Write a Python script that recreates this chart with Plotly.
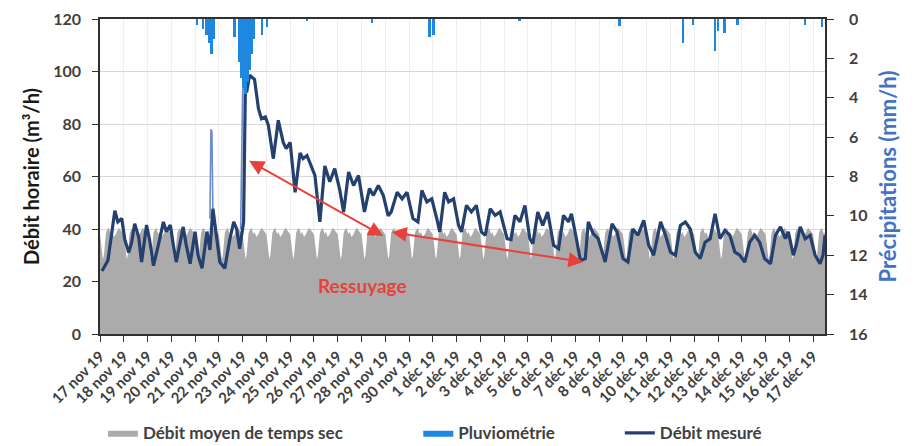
import pandas as pd
import plotly.graph_objects as go

START = pd.Timestamp("2019-11-17 00:00")

# ---- x-axis tick labels (one per day) ----
tick_labels = (
    [f"{d} nov 19" for d in range(17, 31)]
    + [f"{d} déc 19" for d in range(1, 18)]
)

# ---- Débit moyen de temps sec : hourly dry-weather profile (m3/h), repeated each day ----
dry_profile = [38, 35, 31, 28.5, 30, 35, 38.5, 39.5, 40, 40.5, 39, 38,
               39, 38, 37, 37.5, 38, 39, 40, 40.5, 40, 39.5, 39, 38.5]
n_hours = 733

# ---- Débit mesuré (m3/h), hours since 17 nov 00:00 ----
measured_hours = [2, 8, 15, 18, 22, 25, 29, 32, 35, 39, 42, 47, 50, 54, 59, 64, 67, 71, 74, 77,
                  84, 87, 91, 96, 99, 103, 108, 111, 114, 118, 121, 126, 131, 135, 138, 141, 145,
                  147, 148, 151, 156, 160, 163, 167, 170, 175, 180, 185, 188, 192, 197, 202, 205,
                  209, 214, 217, 222, 227, 232, 237, 242, 246, 251, 256, 261, 267, 272, 276, 281,
                  286, 291, 294, 300, 305, 310, 316, 321, 325, 330, 335, 340, 343, 348, 352, 357,
                  362, 365, 370, 375, 380, 385, 389, 394, 399, 404, 411, 415, 419, 424, 429, 434,
                  437, 442, 447, 452, 458, 463, 468, 473, 476, 481, 485, 490, 493, 498, 503, 510,
                  517, 522, 528, 533, 538, 543, 549, 554, 559, 566, 571, 576, 581, 586, 591, 596,
                  601, 606, 611, 616, 621, 626, 631, 636, 641, 646, 651, 656, 661, 666, 671, 677,
                  682, 687, 692, 695, 700, 703, 707, 712, 717, 722, 727, 730, 732]
measured_flow = [24, 28, 47, 42.7, 44, 36, 31, 35, 42, 37, 27.4, 41.5, 36, 26, 34, 42.7, 39, 41.5, 34, 27.4,
                 40.8, 34, 26.8, 39, 30, 25, 39, 32, 47.7, 36, 27.4, 25, 36, 42.7, 40, 32.5, 42.7,
                 101, 92, 98.6, 97, 85.8, 82, 82.7, 79.5, 66.8, 81.4, 73, 70.6, 73, 54, 69, 66.8,
                 68, 63, 60.4, 42.7, 64, 58, 63, 55, 46.5, 61.7, 56.6, 60.4, 46.5, 55.4, 52.8, 56.6,
                 52.8, 45, 46.5, 54, 51.5, 54, 44, 42.7, 54.7, 50.3, 51.5, 44, 38.9, 54, 50.3, 51.5,
                 41.4, 38.9, 49, 46.5, 49, 38.9, 37.6, 47.7, 45.2, 46.5, 36.3, 36, 45.2, 42.7, 49, 36.3,
                 34.4, 46.5, 41.4, 46.5, 33.8, 32.5, 45.2, 42.7, 45.8, 36.3, 28, 28.7, 42.7, 38.2, 36.3, 27.4,
                 42, 38.9, 28.7, 27.4, 40, 37.6, 43.3, 33.8, 30, 42.7, 37.6, 31.2, 30, 41.4, 42.7, 40,
                 31.2, 28.7, 35, 36.3, 45.8, 36.3, 39.5, 37.6, 31.2, 30, 27.4, 35, 37.6, 35, 28.7, 26.8,
                 37.6, 40.8, 36.3, 38.9, 30, 33.8, 40.8, 36.3, 37.6, 30, 26.8, 30, 37.6]

# ---- thin light-blue raw spikes visible on 21-22 nov ----
spike_hours = [111, 112, 113, 114, None, 142, 143, 144, 145, 146]
spike_flow = [44, 78, 77, 46, None, 40, 70, 92, 96, 100]

# ---- Pluviométrie (mm/h) ----
rain_hours = [98, 104, 108, 111, 113, 115, 136, 141, 143, 145, 147, 149, 151, 153, 155,
              164, 169, 209, 275, 333, 337, 424, 525, 589, 599, 621, 624, 631, 644, 712, 729]
rain_mm = [0.3, 0.5, 0.8, 1.2, 1.8, 1.0, 0.9, 2.2, 3.0, 3.5, 3.8, 3.2, 2.6, 1.8, 1.0,
           0.8, 0.4, 0.1, 0.2, 0.9, 0.8, 0.1, 0.35, 1.2, 0.3, 1.6, 0.6, 0.7, 0.3, 0.3, 0.4]

# ---- annotation anchors (hours, m3/h) ----
arrow1 = (149, 66.3, 286, 37.3)
arrow2 = (293, 38.9, 488, 27.4)
label_pos = (265, 18.5)


def t(h):
    return None if h is None else START + pd.Timedelta(hours=h)


dry_x = [t(h) for h in range(n_hours)]
dry_y = [dry_profile[h % 24] for h in range(n_hours)]

FONT = "Lato, 'Open Sans', sans-serif"
DARK = "#404040"
RED = "#E8413C"
RAIN = "#1E88E0"

fig = go.Figure()

fig.add_trace(go.Scatter(
    x=dry_x, y=dry_y, mode="lines", fill="tozeroy",
    line=dict(width=0, color="#ABABAB"), fillcolor="#ABABAB",
    name="Débit moyen de temps sec", legend="legend", hoverinfo="skip"))

fig.add_trace(go.Scatter(
    x=[t(h) for h in spike_hours], y=spike_flow, mode="lines",
    line=dict(width=1.6, color="#6C8DCB"), showlegend=False, hoverinfo="skip"))

fig.add_trace(go.Scatter(
    x=[t(h) for h in measured_hours], y=measured_flow, mode="lines",
    line=dict(width=3.2, color="#24406E"),
    name="Débit mesuré", legend="legend3"))

fig.add_trace(go.Bar(
    x=[t(h) for h in rain_hours], y=rain_mm, yaxis="y2",
    width=2 * 3600 * 1000, marker=dict(color=RAIN, line=dict(width=0)),
    name="Pluviométrie", showlegend=False))

# legend-only entry so the rain key is drawn as a wide box like the original
fig.add_trace(go.Scatter(
    x=[None], y=[None], mode="lines", fill="toself",
    line=dict(width=0, color=RAIN), fillcolor=RAIN,
    name="Pluviométrie", legend="legend2"))

tickvals = [START + pd.Timedelta(days=d) for d in range(len(tick_labels))]

legend_common = dict(y=-0.315, xanchor="left", yanchor="middle",
                     font=dict(size=17, weight="bold", color=DARK), bgcolor="rgba(0,0,0,0)")

fig.update_layout(
    width=916, height=446,
    margin=dict(l=100, r=91, t=19, b=112, autoexpand=False),
    plot_bgcolor="white", paper_bgcolor="white",
    font=dict(family=FONT, color=DARK),
    bargap=0,
    xaxis=dict(
        type="date", range=[t(0), t(732)], automargin=False,
        tickmode="array", tickvals=tickvals, ticktext=tick_labels,
        tickangle=-45, tickfont=dict(size=15, weight="bold", color=DARK),
        showline=True, linecolor="#303030", linewidth=1.5, mirror=True,
        ticks="outside", ticklen=6, tickcolor="#303030",
        showgrid=True, gridcolor="#EFEFEF", zeroline=False),
    yaxis=dict(
        range=[0, 120], dtick=20, automargin=False,
        tickfont=dict(size=16, weight="bold", color=DARK),
        title=dict(text="Débit horaire (m³/h)",
                   font=dict(size=20, weight="bold", color="#1A1A1A"), standoff=8),
        showline=True, linecolor="#303030", linewidth=1.5,
        ticks="outside", ticklen=6, tickcolor="#303030", ticklabelstandoff=8,
        showgrid=True, gridcolor="#D9D9D9", zeroline=False),
    yaxis2=dict(
        overlaying="y", side="right", range=[16, 0], dtick=2, automargin=False,
        tickfont=dict(size=16, weight="bold", color=DARK),
        title=dict(text="Précipitations (mm/h)",
                   font=dict(size=22, weight="bold", color="#4472C4"), standoff=14),
        showline=True, linecolor="#303030", linewidth=1.5,
        ticks="outside", ticklen=7, tickcolor="#303030", ticklabelstandoff=12,
        showgrid=False, zeroline=False),
    legend=dict(x=0.004, **legend_common),
    legend2=dict(x=0.439, **legend_common),
    legend3=dict(x=0.717, **legend_common),
)

for (h0, v0, h1, v1) in (arrow1, arrow2):
    fig.add_annotation(
        x=t(h1), y=v1, ax=t(h0), ay=v0, xref="x", yref="y", axref="x", ayref="y",
        text="", showarrow=True, arrowside="end+start",
        arrowhead=2, startarrowhead=2, arrowsize=1.5, startarrowsize=1.5,
        arrowwidth=2, arrowcolor=RED)

fig.add_annotation(
    x=t(label_pos[0]), y=label_pos[1], xref="x", yref="y", text="Ressuyage",
    showarrow=False, font=dict(size=19, weight="bold", color=RED))

fig.write_html("out.html", config={"displayModeBar": False},
               post_script="document.body.style.margin='0px';")
